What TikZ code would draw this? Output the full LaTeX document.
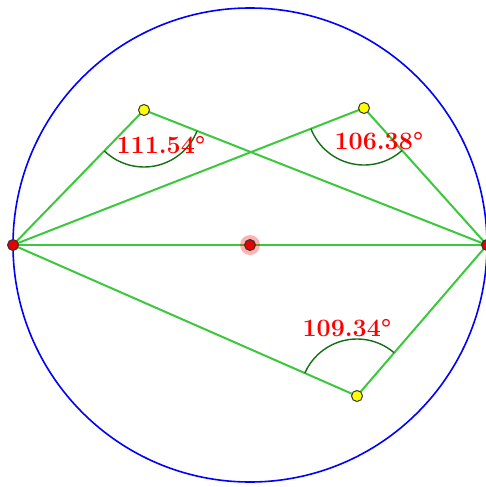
\documentclass[tikz,border=0pt]{standalone}
\usetikzlibrary{angles}
\definecolor{segg}{RGB}{60,200,60}
\definecolor{arcg}{RGB}{20,110,20}
\definecolor{ptred}{RGB}{230,0,0}
\definecolor{ptyel}{RGB}{255,255,0}
\tikzset{
  seg/.style={draw=segg, line width=2pt},
  circ/.style={draw=blue, line width=1.6pt},
  anglearc/.style={draw=arcg, line width=1.4pt, angle radius=57pt},
  ypt/.style={circle, fill=ptyel, draw=black!80, line width=1pt, inner sep=0pt, minimum size=11pt},
  rpt/.style={circle, fill=ptred, draw=black!80, line width=1pt, inner sep=0pt, minimum size=11pt},
  lab/.style={text=red, font=\fontsize{25}{28}\selectfont\bfseries, inner sep=0pt}
}
\begin{document}
\begin{tikzpicture}[x=1pt,y=-1pt]
\useasboundingbox (0,0) rectangle (486,487);
\fill[white] (0,0) rectangle (486,487);
\coordinate (O) at (250,245);
\coordinate (A) at (13,245);
\coordinate (B) at (487,245);
\coordinate (P1) at (144,110);
\coordinate (P2) at (364,108);
\coordinate (P3) at (357,396);
\draw[circ] (O) circle[radius=237pt];
\draw[seg] (A) -- (B);
\draw[seg] (A) -- (P1) -- (B);
\draw[seg] (A) -- (P2) -- (B);
\draw[seg] (A) -- (P3) -- (B);
\pic[anglearc] {angle = A--P1--B};
\pic[anglearc] {angle = A--P2--B};
\pic[anglearc] {angle = B--P3--A};
\node[lab] (l1) at (161,145) {111.54\textdegree};
\node[lab] (l2) at (379,141) {106.38\textdegree};
\node[lab] (l3) at (347,328) {109.34\textdegree};
\fill[red, opacity=0.3] (O) circle[radius=10pt];
\node[rpt] (nO) at (O) {};
\node[rpt] (nA) at (A) {};
\node[rpt] (nB) at (B) {};
\node[ypt] (n1) at (P1) {};
\node[ypt] (n2) at (P2) {};
\node[ypt] (n3) at (P3) {};
\end{tikzpicture}
\end{document}
